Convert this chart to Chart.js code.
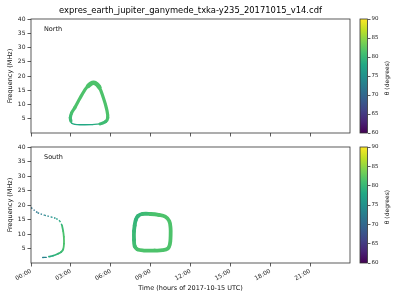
<!DOCTYPE html>
<html>
<head>
<meta charset="utf-8">
<script src="https://cdn.jsdelivr.net/npm/chart.js@4.4.1/dist/chart.umd.min.js"></script>
<style>
  html, body { margin: 0; padding: 0; background: #fff; }
  #wrap { position: relative; width: 400px; height: 300px; }
  #wrap canvas { position: absolute; left: 0; top: 0; }
</style>
</head>
<body>
<div id="wrap">
  <canvas id="north" width="400" height="300"></canvas>
  <canvas id="south" width="400" height="300"></canvas>
  <canvas id="cbNorth" width="400" height="300"></canvas>
  <canvas id="cbSouth" width="400" height="300"></canvas>
</div>
<script>
const hourTicks = [0, 3, 6, 9, 12, 15, 18, 21];
const freqTicks = [5, 10, 15, 20, 25, 30, 35, 40];
const thetaTicks = [60, 65, 70, 75, 80, 85, 90];

// North: emission loop (time in hours, frequency in MHz, theta in degrees)
const northArcTime  = [3.0, 2.96, 3.05, 3.3, 3.65, 4.02, 4.35, 4.72, 5.1, 5.45, 5.7, 5.77, 5.62, 5.2];
const northArcFreq  = [4.2, 5.4, 7.0, 8.9, 11.9, 14.9, 16.8, 17.6, 16.3, 12.3, 8.2, 5.3, 4.0, 3.2];
const northArcTheta = [80, 80.5, 81, 81.5, 81.5, 81.5, 81.5, 81.5, 81.5, 81.5, 81.5, 81.5, 81, 80];

// thicker part of the band around the peak
const northPeakTime  = [4.3, 4.5, 4.72, 4.95, 5.15];
const northPeakFreq  = [16.5, 17.3, 17.6, 17.1, 16.0];
const northPeakTheta = [81.5, 81.5, 81.5, 81.5, 81.5];

const northBaseTime  = [5.2, 4.6, 3.9, 3.3, 3.05, 3.0];
const northBaseFreq  = [3.2, 2.95, 2.9, 3.0, 3.5, 4.2];
const northBaseTheta = [79, 78, 78, 78, 78.5, 79];

// South: tail from the start of the day
const southTailTime  = [0, 0.5, 1.0, 1.5, 1.9, 2.15, 2.33];
const southTailFreq  = [19.1, 17.4, 16.5, 15.9, 15.3, 14.5, 13.0];
const southTailTheta = [71, 72, 73, 74.5, 76, 78, 80];

const southSideTime  = [2.33, 2.42, 2.47, 2.48, 2.42, 2.27, 2.03, 1.65, 1.35];
const southSideFreq  = [13.0, 11.0, 9.0, 6.7, 4.7, 3.8, 3.2, 2.5, 2.2];
const southSideTheta = [80, 81, 81.5, 81.5, 81, 80.5, 80, 79, 78];

const southStubTime  = [0.88, 1.15];
const southStubFreq  = [1.9, 1.95];
const southStubTheta = [73, 73];

// South: second loop
const southLoopTime  = [7.8, 7.88, 8.05, 8.4, 9.0, 9.6, 10.1, 10.4, 10.5, 10.5, 10.45, 10.3, 9.9, 9.2, 8.5, 8.0, 7.8, 7.75, 7.75, 7.8];
const southLoopFreq  = [13.0, 14.8, 16.2, 16.9, 16.9, 16.6, 16.0, 14.5, 12.0, 9.0, 6.5, 5.0, 4.4, 4.3, 4.3, 4.7, 5.8, 8.0, 11.0, 13.0];
const southLoopTheta = [80, 79.5, 79.5, 80, 81, 81.5, 81.5, 81.5, 81.5, 81.5, 81.5, 81.5, 81.5, 81.5, 81.5, 81.5, 81, 80.5, 80, 80];

const viridisStops = ['#440154', '#482475', '#414487', '#355f8d', '#2a788e', '#21918c',
                      '#22a884', '#44bf70', '#7ad151', '#bddf26', '#fde725'];

function hexToRgb(h) {
  return [parseInt(h.slice(1, 3), 16), parseInt(h.slice(3, 5), 16), parseInt(h.slice(5, 7), 16)];
}

function viridis(theta) {
  let t = (theta - 60) / 30;
  t = Math.max(0, Math.min(1, t)) * (viridisStops.length - 1);
  const i = Math.min(Math.floor(t), viridisStops.length - 2);
  const f = t - i;
  const a = hexToRgb(viridisStops[i]), b = hexToRgb(viridisStops[i + 1]);
  const c = a.map((v, k) => Math.round(v + (b[k] - v) * f));
  return `rgb(${c[0]}, ${c[1]}, ${c[2]})`;
}

function trace(times, freqs, thetas, width, dash) {
  return {
    data: times.map((t, i) => ({ x: t, y: freqs[i] })),
    showLine: true,
    pointRadius: 0,
    borderWidth: width,
    borderDash: dash || [],
    tension: 0.4,
    borderCapStyle: dash ? 'butt' : 'round',
    borderJoinStyle: 'round',
    borderColor: viridis(thetas[0]),
    segment: {
      borderColor: c => viridis((thetas[c.p0DataIndex] + thetas[c.p1DataIndex]) / 2)
    }
  };
}

Chart.defaults.font.family = 'DejaVu Sans';
Chart.defaults.color = '#222';

const frame = {
  id: 'frame',
  afterDraw(chart) {
    const a = chart.chartArea, ctx = chart.ctx;
    ctx.save();
    ctx.strokeStyle = '#333';
    ctx.lineWidth = 0.8;
    ctx.strokeRect(a.left, a.top, a.right - a.left, a.bottom - a.top);
    ctx.restore();
  }
};

const labels = {
  id: 'labels',
  afterDraw(chart, args, opts) {
    const ctx = chart.ctx, a = chart.chartArea;
    ctx.save();
    ctx.fillStyle = '#111';
    ctx.textBaseline = 'middle';
    if (opts.panel) {
      ctx.font = '6.5px "DejaVu Sans"';
      ctx.textAlign = 'left';
      ctx.fillText(opts.panel, a.left + 13, a.top + 10.5);
    }
    if (opts.title) {
      ctx.font = '8.4px "DejaVu Sans"';
      ctx.textAlign = 'center';
      ctx.fillStyle = '#000';
      ctx.fillText(opts.title, (a.left + a.right) / 2, 11);
    }
    if (opts.side) {
      ctx.font = '6px "DejaVu Sans"';
      ctx.textAlign = 'center';
      ctx.translate(a.right + 19.5, (a.top + a.bottom) / 2 + 2);
      ctx.rotate(-Math.PI / 2);
      ctx.fillText(opts.side, 0, 0);
    }
    ctx.restore();
  }
};

function setTicks(list) {
  return s => { s.ticks = list.map(v => ({ value: v })); };
}

const axisGrid = { drawOnChartArea: false, tickLength: 3.5, color: '#333', lineWidth: 0.8 };

function panel(id, top, bottom, datasets, name, withTime) {
  const xHeight = withTime ? 37 : 4;
  return new Chart(document.getElementById(id), {
    type: 'scatter',
    data: { datasets: datasets },
    options: {
      responsive: false,
      animation: false,
      layout: { padding: { left: 0, top: top, right: 50, bottom: 300 - bottom - xHeight } },
      plugins: {
        legend: { display: false },
        tooltip: { enabled: false },
        labels: { panel: name, title: withTime ? null : 'expres_earth_jupiter_ganymede_txka-y235_20171015_v14.cdf' }
      },
      scales: {
        x: {
          type: 'linear', min: 0, max: 24,
          afterBuildTicks: setTicks(hourTicks),
          grid: axisGrid,
          border: { display: false },
          ticks: {
            font: { size: 6 }, padding: 1,
            minRotation: 30, maxRotation: 30, autoSkip: false,
            callback: v => withTime ? String(v).padStart(2, '0') + ':00' : ''
          },
          title: {
            display: withTime, text: 'Time (hours of 2017-10-15 UTC)',
            font: { size: 6.5 }, color: '#111', padding: { top: 0, bottom: 8 }
          },
          afterFit: s => { s.height = xHeight; }
        },
        y: {
          min: 0, max: 40,
          afterBuildTicks: setTicks(freqTicks),
          grid: axisGrid,
          border: { display: false },
          ticks: { font: { size: 6 }, padding: 2, autoSkip: false },
          title: {
            display: true, text: 'Frequency (MHz)',
            font: { size: 6.5 }, color: '#111', padding: { top: 6, bottom: 2 }
          },
          afterFit: s => { s.width = 31; }
        }
      }
    },
    plugins: [frame, labels]
  });
}

function colorbar(id, top, bottom) {
  return new Chart(document.getElementById(id), {
    type: 'bar',
    data: {
      labels: ['theta'],
      datasets: [{
        data: [[thetaTicks[0], thetaTicks[thetaTicks.length - 1]]],
        barPercentage: 1,
        categoryPercentage: 1,
        borderWidth: 0,
        backgroundColor: c => {
          const chart = c.chart, y = chart.scales.y;
          if (!chart.chartArea || !y) return viridis(75);
          const g = chart.ctx.createLinearGradient(0, y.getPixelForValue(60), 0, y.getPixelForValue(90));
          viridisStops.forEach((col, i) => g.addColorStop(i / (viridisStops.length - 1), col));
          return g;
        }
      }]
    },
    options: {
      responsive: false,
      animation: false,
      layout: { padding: { left: 360, top: top, right: 12.5, bottom: 300 - bottom } },
      plugins: {
        legend: { display: false },
        tooltip: { enabled: false },
        labels: { side: 'θ (degrees)' }
      },
      scales: {
        x: { display: false },
        y: {
          position: 'right', min: 60, max: 90,
          afterBuildTicks: setTicks(thetaTicks),
          grid: { drawOnChartArea: false, tickLength: 3, color: '#333', lineWidth: 0.8 },
          border: { display: false },
          ticks: { font: { size: 5.5 }, padding: 1, autoSkip: false },
          afterFit: s => { s.width = 20; }
        }
      }
    },
    plugins: [frame, labels]
  });
}

panel('north', 19, 133, [
  trace(northArcTime, northArcFreq, northArcTheta, 3.2),
  trace(northPeakTime, northPeakFreq, northPeakTheta, 4.5),
  trace(northBaseTime, northBaseFreq, northBaseTheta, 1.3)
], 'North', false);

panel('south', 147, 263, [
  trace(southTailTime, southTailFreq, southTailTheta, 1.4, [1.5, 1.8]),
  trace(southSideTime, southSideFreq, southSideTheta, 1.8),
  trace(southStubTime, southStubFreq, southStubTheta, 1.4),
  trace(southLoopTime, southLoopFreq, southLoopTheta, 3.8)
], 'South', true);

colorbar('cbNorth', 19, 133);
colorbar('cbSouth', 147, 263);
</script>
</body>
</html>
